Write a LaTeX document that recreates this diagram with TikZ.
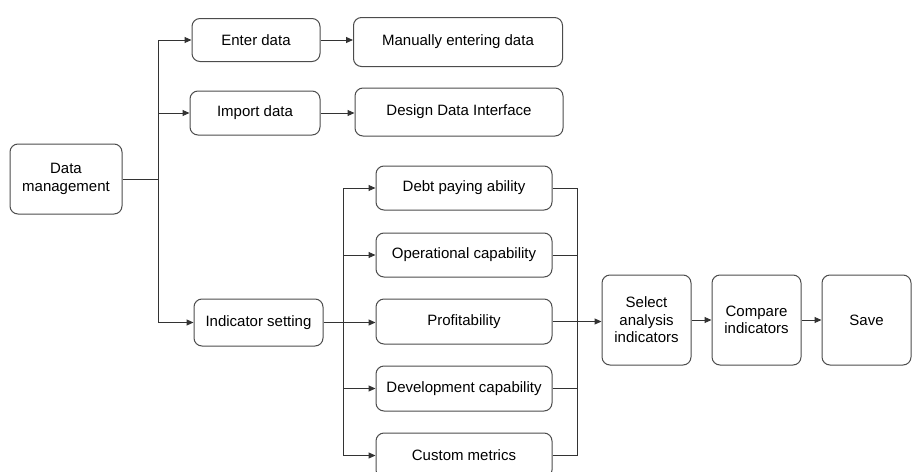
\documentclass[tikz,border=0pt]{standalone}
\usepackage{fontspec}
\setmainfont{Liberation Sans}
\usetikzlibrary{arrows.meta}
\begin{document}
\begin{tikzpicture}[x=1pt,y=-1pt,
  box/.style={draw=black!70,line width=1pt,rounded corners=8pt,align=center,
    font=\fontsize{15}{17.5}\selectfont,inner sep=0pt},
  conn/.style={draw=black!80,line width=1pt},
  arr/.style={conn,-{Triangle[length=7pt,width=6pt]}}]
\useasboundingbox (0,0) rectangle (915,471);
% nodes
\node[box,minimum width=112pt,minimum height=70pt] (dm) at (66,179) {Data\\management};
\node[box,minimum width=128pt,minimum height=43pt] (ed) at (256,40) {Enter data};
\node[box,minimum width=209pt,minimum height=49pt] (me) at (458,42) {Manually entering data};
\node[box,minimum width=130pt,minimum height=44pt] (id) at (255,113) {Import data};
\node[box,minimum width=208pt,minimum height=48pt] (dd) at (459,112) {Design Data Interface};
\node[box,minimum width=129pt,minimum height=47pt] (is) at (258.5,322.5) {Indicator setting};
\node[box,minimum width=176pt,minimum height=44pt] (dp) at (464,188) {Debt paying ability};
\node[box,minimum width=176pt,minimum height=44pt] (oc) at (464,255) {Operational capability};
\node[box,minimum width=176pt,minimum height=45pt] (pr) at (464,321.5) {Profitability};
\node[box,minimum width=176pt,minimum height=45pt] (dc) at (464,388.5) {Development capability};
\node[box,minimum width=176pt,minimum height=45pt] (cm) at (464,455.5) {Custom metrics};
\node[box,minimum width=89pt,minimum height=90pt] (sa) at (646.5,320) {Select\\analysis\\indicators};
\node[box,minimum width=89pt,minimum height=90pt] (ci) at (756.5,320) {Compare\\indicators};
\node[box,minimum width=89pt,minimum height=90pt] (sv) at (866.5,320) {Save};
% bus coordinates
\coordinate (b1) at (158,0);
\coordinate (b2) at (343,0);
\coordinate (b3) at (577,0);
% left bus
\draw[conn] (dm.east) -- (b1 |- dm.east);
\draw[conn] (b1 |- ed.west) -- (b1 |- is.west);
\draw[arr] (b1 |- ed.west) -- (ed.west);
\draw[arr] (b1 |- id.west) -- (id.west);
\draw[arr] (b1 |- is.west) -- (is.west);
\draw[arr] (ed.east) -- (ed.east -| me.west);
\draw[arr] (id.east) -- (id.east -| dd.west);
% middle bus
\draw[conn] (b2 |- dp.west) -- (b2 |- cm.west);
\draw[arr] (b2 |- dp.west) -- (dp.west);
\draw[arr] (b2 |- oc.west) -- (oc.west);
\draw[arr] (is.east) -- (is.east -| pr.west);
\draw[arr] (b2 |- dc.west) -- (dc.west);
\draw[arr] (b2 |- cm.west) -- (cm.west);
% right bus
\draw[conn] (b3 |- dp.east) -- (b3 |- cm.east);
\draw[conn] (dp.east) -- (b3 |- dp.east);
\draw[conn] (oc.east) -- (b3 |- oc.east);
\draw[conn] (dc.east) -- (b3 |- dc.east);
\draw[conn] (cm.east) -- (b3 |- cm.east);
\draw[arr] (pr.east) -- (pr.east -| sa.west);
\draw[arr] (sa.east) -- (ci.west);
\draw[arr] (ci.east) -- (sv.west);
\end{tikzpicture}
\end{document}
